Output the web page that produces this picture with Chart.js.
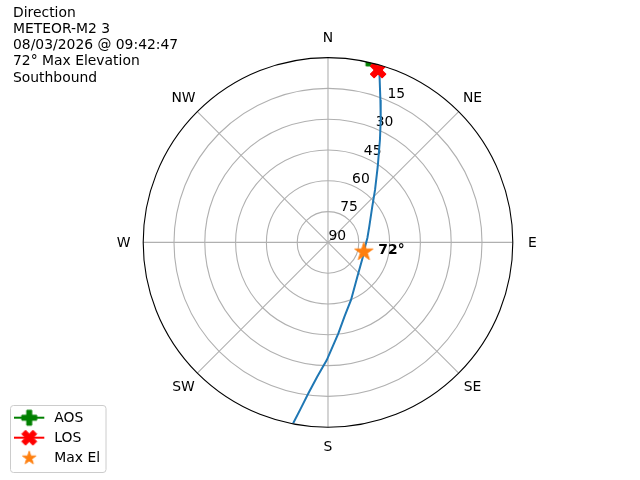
<!DOCTYPE html>
<html>
<head>
<meta charset="utf-8">
<script src="https://cdn.jsdelivr.net/npm/chart.js@4/dist/chart.umd.min.js"></script>
<style>
  html, body { margin: 0; padding: 0; background: #ffffff; }
  #wrap { width: 640px; height: 480px; }
</style>
</head>
<body>
<div id="wrap"><canvas id="sky" width="640" height="480"></canvas></div>
<script>
// pass track (azimuth deg clockwise from N, elevation deg)
const trackAz = [16.6, 17.1, 20.2, 23.3, 26.9, 33.3, 41.9, 51.1, 69.2, 83.6, 104, 113, 139.5, 158.2, 167.6, 173.5, 180.6, 184.6, 187.4, 189.3, 190.9];
const trackEl = [2.4, 4.7, 16.1, 25.1, 34.1, 45.9, 55.7, 62.3, 68.5, 70.7, 72, 71.6, 68, 59.8, 52.9, 45.4, 32.7, 24.4, 15.9, 8.1, 0.3];

const aosPoint = { az: 12.4, el: -2 };
const losPoint = { az: 16.2, el: 2.6 };
const maxElPoint = { az: 104, el: 72 };

const ringElevations = [90, 75, 60, 45, 30, 15];
const compassLabels = ["N", "NE", "E", "SE", "S", "SW", "W", "NW"];
const titleLines = ["Direction", "METEOR-M2 3", "08/03/2026 @ 09:42:47", "72° Max Elevation", "Southbound"];
const legendLabels = ["AOS", "LOS", "Max El"];

const FONT = '"DejaVu Sans", "Liberation Sans", sans-serif';

function toXY(az, el) {
  const r = 90 - el;
  const a = az * Math.PI / 180;
  return { x: r * Math.sin(a), y: r * Math.cos(a) };
}

function makeMarker(kind, size, color) {
  const c = document.createElement("canvas");
  const pad = 2;
  c.width = size + pad * 2;
  c.height = size + pad * 2;
  const ctx = c.getContext("2d");
  ctx.translate(c.width / 2, c.height / 2);
  ctx.fillStyle = color;
  ctx.strokeStyle = color;
  ctx.lineWidth = 1;
  ctx.lineJoin = "miter";
  ctx.beginPath();
  let pts;
  if (kind === "plus") {
    pts = [[1, 0], [2, 0], [2, 1], [3, 1], [3, 2], [2, 2], [2, 3], [1, 3], [1, 2], [0, 2], [0, 1], [1, 1]]
      .map(function (p) { return [p[0] / 3 - 0.5, p[1] / 3 - 0.5]; });
  } else if (kind === "x") {
    pts = [[0.25, 0], [0.5, 0.25], [0.75, 0], [1, 0.25], [0.75, 0.5], [1, 0.75], [0.75, 1], [0.5, 0.75], [0.25, 1], [0, 0.75], [0.25, 0.5], [0, 0.25]]
      .map(function (p) { return [p[0] - 0.5, p[1] - 0.5]; });
  } else {
    pts = [];
    for (let i = 0; i < 10; i++) {
      const rr = i % 2 === 0 ? 0.5 : 0.5 * 0.381966;
      const ang = -Math.PI / 2 + i * Math.PI / 5;
      pts.push([rr * Math.cos(ang), rr * Math.sin(ang) + 0.03]);
    }
  }
  pts.forEach(function (p, i) {
    const px = p[0] * size;
    const py = p[1] * size;
    if (i === 0) ctx.moveTo(px, py); else ctx.lineTo(px, py);
  });
  ctx.closePath();
  ctx.fill();
  ctx.stroke();
  return c;
}

const aosMarker = makeMarker("plus", 16, "#008000");
const losMarker = makeMarker("x", 16, "#ff0000");
const starMarker = makeMarker("star", 19, "#ff7f0e");
const legendMarkers = [makeMarker("plus", 15, "#008000"), makeMarker("x", 15, "#ff0000"), makeMarker("star", 14, "#ff7f0e")];
const legendColors = ["#008000", "#ff0000", null];

function polarFrame(chart) {
  const xs = chart.scales.x;
  const ys = chart.scales.y;
  const cx = xs.getPixelForValue(0);
  const cy = ys.getPixelForValue(0);
  const unit = (xs.getPixelForValue(90) - cx) / 90;
  return { cx: cx, cy: cy, unit: unit };
}

const polarGrid = {
  id: "polarGrid",
  beforeDatasetsDraw: function (chart) {
    const ctx = chart.ctx;
    const f = polarFrame(chart);
    const cx = f.cx, cy = f.cy, unit = f.unit;
    ctx.save();
    ctx.strokeStyle = "#b0b0b0";
    ctx.lineWidth = 1.1;
    for (let i = 1; i < ringElevations.length; i++) {
      ctx.beginPath();
      ctx.arc(cx, cy, (90 - ringElevations[i]) * unit, 0, Math.PI * 2);
      ctx.stroke();
    }
    for (let k = 0; k < 8; k++) {
      const a = k * 45 * Math.PI / 180;
      ctx.beginPath();
      ctx.moveTo(cx, cy);
      ctx.lineTo(cx + 90 * unit * Math.sin(a), cy - 90 * unit * Math.cos(a));
      ctx.stroke();
    }

    ctx.fillStyle = "#000000";
    ctx.font = "13.9px " + FONT;
    ctx.textAlign = "center";
    ctx.textBaseline = "middle";
    compassLabels.forEach(function (lab, k) {
      const a = k * 45 * Math.PI / 180;
      const rr = 90 * unit + 19.5;
      ctx.fillText(lab, cx + rr * Math.sin(a), cy - rr * Math.cos(a) + 0.5);
    });
    ctx.textAlign = "left";
    ctx.textBaseline = "alphabetic";
    const ra = 22.5 * Math.PI / 180;
    ringElevations.forEach(function (el) {
      const rr = (90 - el) * unit;
      ctx.fillText(String(el), cx + rr * Math.sin(ra) + 0.5, cy - rr * Math.cos(ra) - 2.5);
    });
    ctx.restore();

    // markers are clipped to the plot circle like the original
    ctx.save();
    ctx.beginPath();
    ctx.arc(cx, cy, 90 * unit, 0, Math.PI * 2);
    ctx.clip();
  },
  afterDatasetsDraw: function (chart) {
    const ctx = chart.ctx;
    ctx.restore();
    const f = polarFrame(chart);
    ctx.save();
    ctx.strokeStyle = "#000000";
    ctx.lineWidth = 1.1;
    ctx.beginPath();
    ctx.arc(f.cx, f.cy, 90 * f.unit, 0, Math.PI * 2);
    ctx.stroke();
    ctx.restore();
  },
  afterDraw: function (chart) {
    const ctx = chart.ctx;
    const xs = chart.scales.x;
    const ys = chart.scales.y;
    ctx.save();
    ctx.fillStyle = "#000000";
    ctx.font = "13.9px " + FONT;
    ctx.textAlign = "left";
    ctx.textBaseline = "alphabetic";
    titleLines.forEach(function (line, i) {
      ctx.fillText(line, 13, 16.7 + i * 16.2);
    });

    const m = toXY(maxElPoint.az, maxElPoint.el);
    ctx.font = "bold 13.9px " + FONT;
    ctx.textBaseline = "middle";
    ctx.fillText(Math.round(maxElPoint.el) + "°", xs.getPixelForValue(m.x) + 14.5, ys.getPixelForValue(m.y) - 0.5);

    // legend box
    const bx = 10.5, by = 405.5, bw = 95.5, bh = 67, rad = 3;
    ctx.beginPath();
    ctx.moveTo(bx + rad, by);
    ctx.arcTo(bx + bw, by, bx + bw, by + bh, rad);
    ctx.arcTo(bx + bw, by + bh, bx, by + bh, rad);
    ctx.arcTo(bx, by + bh, bx, by, rad);
    ctx.arcTo(bx, by, bx + bw, by, rad);
    ctx.closePath();
    ctx.fillStyle = "rgba(255,255,255,0.8)";
    ctx.fill();
    ctx.strokeStyle = "#cccccc";
    ctx.lineWidth = 1;
    ctx.stroke();

    ctx.font = "13.9px " + FONT;
    ctx.textBaseline = "middle";
    legendLabels.forEach(function (lab, i) {
      const yy = 417.7 + i * 20;
      if (legendColors[i]) {
        ctx.strokeStyle = legendColors[i];
        ctx.lineWidth = 2;
        ctx.beginPath();
        ctx.moveTo(14, yy);
        ctx.lineTo(44.3, yy);
        ctx.stroke();
      }
      const mk = legendMarkers[i];
      ctx.drawImage(mk, 29.2 - mk.width / 2, yy - mk.height / 2);
      ctx.fillStyle = "#000000";
      ctx.fillText(lab, 54.3, yy + 0.5);
    });
    ctx.restore();
  }
};

const trackData = trackAz.map(function (az, i) { return toXY(az, trackEl[i]); });

new Chart(document.getElementById("sky"), {
  type: "scatter",
  data: {
    datasets: [
      {
        label: "Track",
        data: trackData,
        showLine: true,
        borderColor: "#1f77b4",
        borderWidth: 2,
        pointRadius: 0,
        tension: 0,
        clip: false,
        order: 4
      },
      {
        label: legendLabels[0],
        data: [toXY(aosPoint.az, aosPoint.el)],
        pointStyle: aosMarker,
        clip: false,
        order: 3
      },
      {
        label: legendLabels[1],
        data: [toXY(losPoint.az, losPoint.el)],
        pointStyle: losMarker,
        clip: false,
        order: 2
      },
      {
        label: legendLabels[2],
        data: [toXY(maxElPoint.az, maxElPoint.el)],
        pointStyle: starMarker,
        clip: false,
        order: 1
      }
    ]
  },
  options: {
    responsive: false,
    animation: false,
    devicePixelRatio: 1,
    layout: { padding: { left: 143.2, right: 127.2, top: 57.6, bottom: 52.8 } },
    scales: {
      x: { type: "linear", min: -90, max: 90, display: false },
      y: { type: "linear", min: -90, max: 90, display: false }
    },
    plugins: {
      legend: { display: false },
      tooltip: { enabled: false }
    }
  },
  plugins: [polarGrid]
});
</script>
</body>
</html>
